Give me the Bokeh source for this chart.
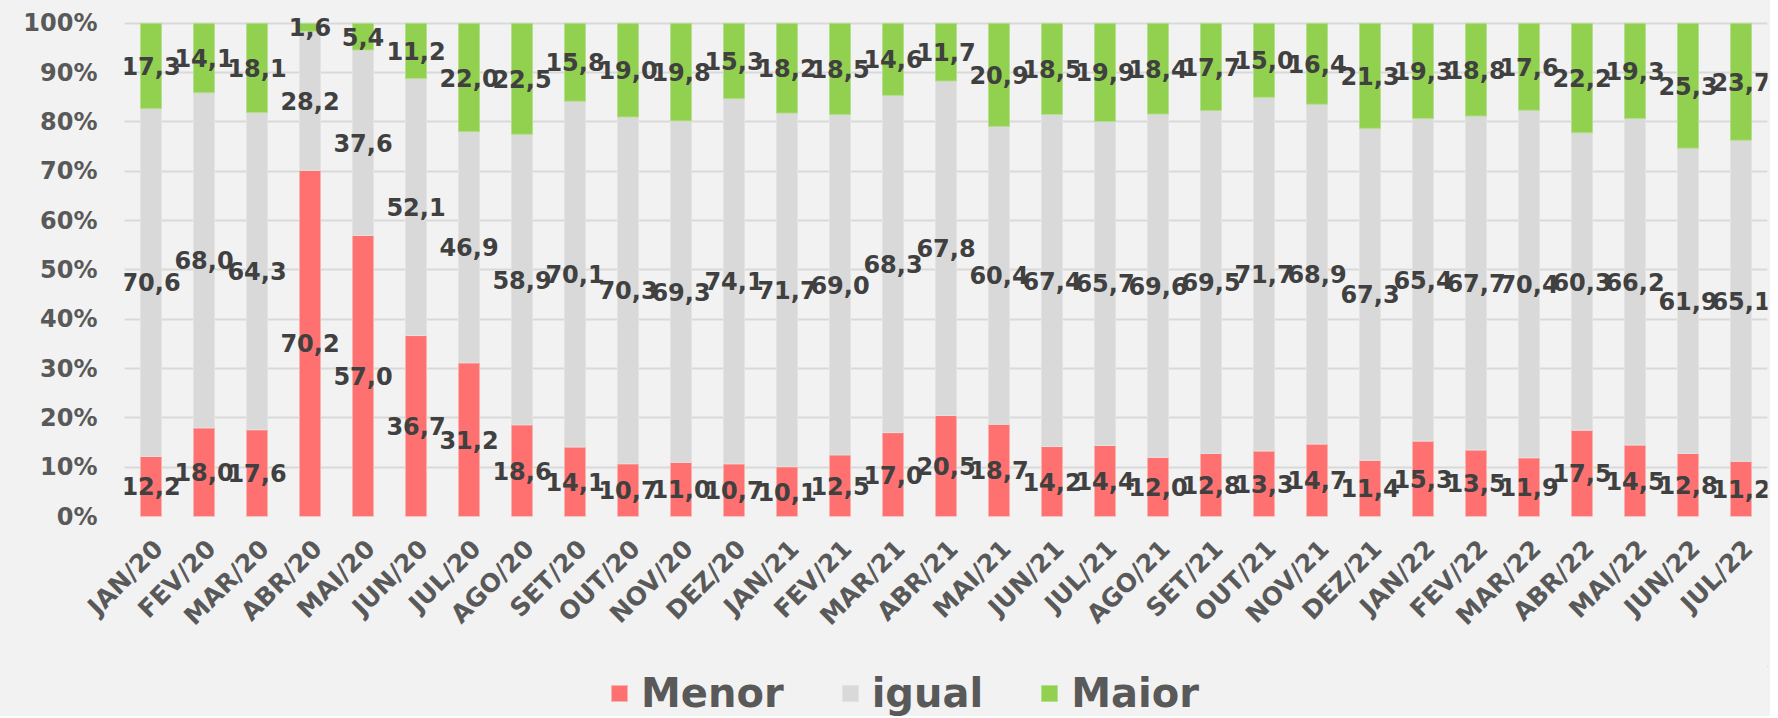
import math
from bokeh.plotting import figure
from bokeh.layouts import column
from bokeh.models import (ColumnDataSource, Range1d, FixedTicker,
                          PrintfTickFormatter, LabelSet, Legend, LegendItem,
                          CustomJSTickFormatter)
from bokeh.core.properties import value
from bokeh.embed import file_html
from bokeh.resources import INLINE

months = ["JAN/20", "FEV/20", "MAR/20", "ABR/20", "MAI/20", "JUN/20", "JUL/20",
          "AGO/20", "SET/20", "OUT/20", "NOV/20", "DEZ/20", "JAN/21", "FEV/21",
          "MAR/21", "ABR/21", "MAI/21", "JUN/21", "JUL/21", "AGO/21", "SET/21",
          "OUT/21", "NOV/21", "DEZ/21", "JAN/22", "FEV/22", "MAR/22", "ABR/22",
          "MAI/22", "JUN/22", "JUL/22"]
menor = [12.2, 18.0, 17.6, 70.2, 57.0, 36.7, 31.2, 18.6, 14.1, 10.7, 11.0, 10.7,
         10.1, 12.5, 17.0, 20.5, 18.7, 14.2, 14.4, 12.0, 12.8, 13.3, 14.7, 11.4,
         15.3, 13.5, 11.9, 17.5, 14.5, 12.8, 11.2]
igual = [70.6, 68.0, 64.3, 28.2, 37.6, 52.1, 46.9, 58.9, 70.1, 70.3, 69.3, 74.1,
         71.7, 69.0, 68.3, 67.8, 60.4, 67.4, 65.7, 69.6, 69.5, 71.7, 68.9, 67.3,
         65.4, 67.7, 70.4, 60.3, 66.2, 61.9, 65.1]
maior = [17.3, 14.1, 18.1, 1.6, 5.4, 11.2, 22.0, 22.5, 15.8, 19.0, 19.8, 15.3,
         18.2, 18.5, 14.6, 11.7, 20.9, 18.5, 19.9, 18.4, 17.7, 15.0, 16.4, 21.3,
         19.3, 18.8, 17.6, 22.2, 19.3, 25.3, 23.7]
series_names = ["Menor", "igual", "Maior"]
y_ticks = [0, 10, 20, 30, 40, 50, 60, 70, 80, 90, 100]

# 100% stacked: normalise each month
tot = [a + b + c for a, b, c in zip(menor, igual, maior)]
m_n = [a / t * 100 for a, t in zip(menor, tot)]
i_n = [b / t * 100 for b, t in zip(igual, tot)]
g_n = [c / t * 100 for c, t in zip(maior, tot)]

def fmt(v):
    return ("%.1f" % v).replace(".", ",")

n = len(months)
src = ColumnDataSource(dict(
    x=[i + 0.5 for i in range(n)], month=months, Menor=m_n, igual=i_n, Maior=g_n,
    y_m=[v / 2 for v in m_n],
    y_i=[a + b / 2 for a, b in zip(m_n, i_n)],
    y_g=[a + b + c / 2 for a, b, c in zip(m_n, i_n, g_n)],
    t_m=[fmt(v) for v in menor],
    t_i=[fmt(v) for v in igual],
    t_g=[fmt(v) for v in maior],
))

BG = "#f2f2f2"
W = 1770
shift = 0.14  # label offset to the right, in category widths
p = figure(x_range=Range1d(0, n), y_range=Range1d(0, 102),
           width=W, height=666, output_backend="svg", toolbar_location=None,
           background_fill_color=BG, border_fill_color=BG, outline_line_color=None)
p.min_border_left = 124
p.min_border_right = 3
p.min_border_top = 13
p.min_border_bottom = 150

colors = ["#ff7171", "#d9d9d9", "#92d050"]
edges = ["#f7b3ad", "#e3e3e3", "#b5de8e"]
rs = p.vbar_stack(series_names, x="x", width=0.396, source=src,
                  fill_color=colors, line_color=edges, line_width=1)

for ycol, tcol in [("y_m", "t_m"), ("y_i", "t_i"), ("y_g", "t_g")]:
    ls = LabelSet(x="x", y=ycol, text=tcol, source=src, text_align="center",
                  text_baseline="middle", text_font=value("DejaVu Sans"),
                  text_font_style="bold",
                  text_font_size="24px", text_color="#404040")
    p.add_layout(ls)

p.yaxis.ticker = FixedTicker(ticks=y_ticks)
p.yaxis.formatter = PrintfTickFormatter(format="%d%%")
p.yaxis.axis_line_color = None
p.yaxis.major_tick_line_color = None
p.yaxis.minor_tick_line_color = None
p.yaxis.major_label_text_font = "DejaVu Sans"
p.yaxis.major_label_text_font_style = "bold"
p.yaxis.major_label_text_font_size = "24px"
p.yaxis.major_label_text_color = "#595959"
p.yaxis.major_label_standoff = 21

xax = p.xaxis[0]
xax.ticker = FixedTicker(ticks=[i + 0.5 + shift for i in range(n)])
xax.formatter = CustomJSTickFormatter(args=dict(labels=months, shift=shift),
                                      code="return labels[Math.round(tick - 0.5 - shift)];")
xax.axis_line_color = None
xax.major_tick_line_color = None
xax.minor_tick_line_color = None
xax.major_label_orientation = math.pi / 4
xax.major_label_text_font = "DejaVu Sans"
xax.major_label_text_font_style = "bold"
xax.major_label_text_font_size = "25px"
xax.major_label_text_color = "#595959"
xax.major_label_standoff = 22

p.xgrid.grid_line_color = None
p.ygrid.grid_line_color = "#d9d9d9"
p.ygrid.grid_line_width = 2

# legend strip below the chart
lf = figure(width=W, height=50, x_range=Range1d(0, 1), y_range=Range1d(0, 1),
            output_backend="svg", toolbar_location=None, x_axis_type=None,
            y_axis_type=None, background_fill_color=BG, border_fill_color=BG,
            outline_line_color=None, min_border=0)
lf.xgrid.grid_line_color = None
lf.ygrid.grid_line_color = None
dummies = [lf.vbar(x=[5], top=[5], bottom=[4], width=0.1, fill_color=c, line_color=e)
           for c, e in zip(colors, edges)]
legend = Legend(items=[LegendItem(label=nm, renderers=[r]) for nm, r in zip(series_names, dummies)],
                orientation="horizontal", location=(485, 0),
                label_text_font="DejaVu Sans", label_text_font_style="bold",
                label_text_font_size="40px", label_text_color="#595959",
                glyph_width=20, glyph_height=20, label_standoff=12, spacing=56,
                padding=0, margin=0, border_line_color=None,
                background_fill_alpha=0)
lf.add_layout(legend, "center")

layout = column(p, lf, spacing=0, styles={"background-color": BG})
open("out.html", "w").write(file_html(layout, INLINE))
